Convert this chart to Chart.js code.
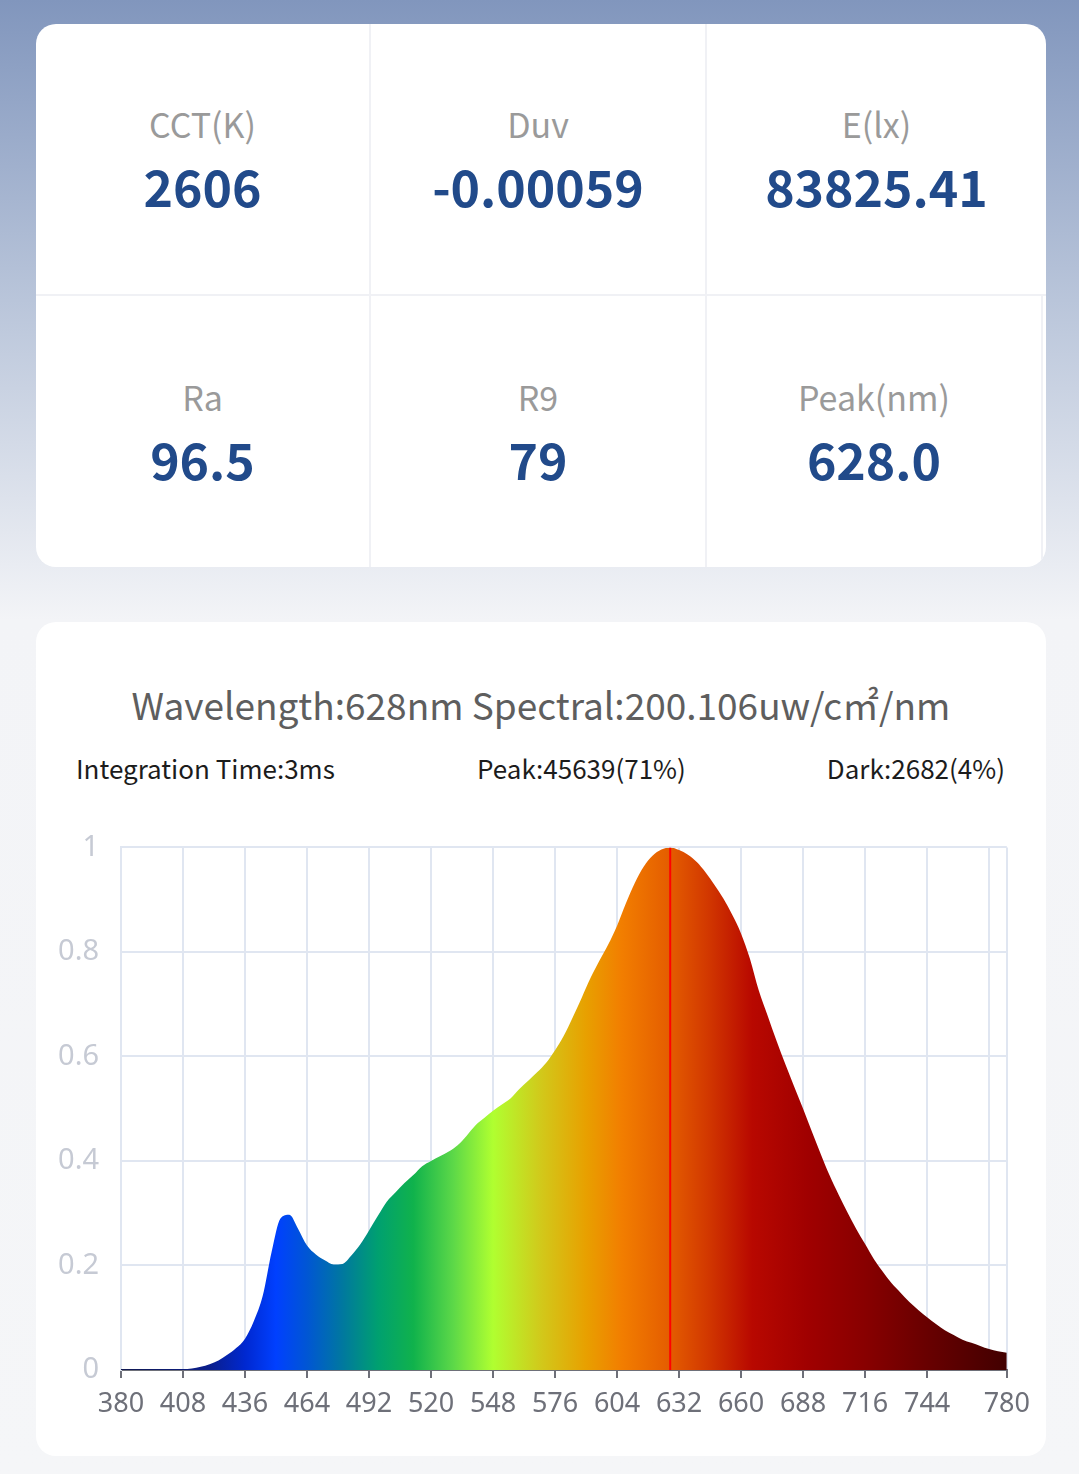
<!DOCTYPE html>
<html>
<head>
<meta charset="utf-8">
<script src="https://cdn.jsdelivr.net/npm/chart.js@4.4.1/dist/chart.umd.min.js"></script>
<style>
    html, body { margin: 0; padding: 0; }
    body {
        width: 1079px;
        height: 1474px;
        position: relative;
        overflow: hidden;
        font-family: "Noto Sans CJK SC", "Noto Sans", sans-serif;
        background: linear-gradient(180deg, #8196bd 0px, #b9c5da 300px, #f3f4f7 620px, #f5f6f8 1474px);
    }
    .card {
        position: absolute;
        left: 36px;
        width: 1010px;
        background: #fff;
        border-radius: 20px;
        overflow: hidden;
    }
    #stats { top: 24px; height: 543px; display: grid; grid-template-columns: 335px 336px 339px; grid-template-rows: 272px 271px; }
    .cell {
        display: flex;
        flex-direction: column;
        align-items: center;
        justify-content: center;
        box-sizing: border-box;
        border-right: 2px solid #f0f1f5;
        border-bottom: 2px solid #f0f1f5;
    }
    .cell.last { border-right: none; }
    .cell.bottom { border-bottom: none; }
    .cell.bottom.last { border-right: 2px solid #f0f1f5; margin-right: 3px; }
    .label { font-size: 34px; line-height: 41px; color: #9a9a9a; }
    .value { font-size: 50px; line-height: 60px; font-weight: bold; color: #214a8a; margin-top: 11px; }
    #spectrum { top: 622px; height: 834px; }
    .title { position: absolute; left: 0; width: 1010px; top: 58px; text-align: center; font-size: 37px; line-height: 48px; color: #5e5e5e; }
    .info { position: absolute; top: 128px; font-size: 26px; line-height: 36px; color: #1c1c1c; }
    #chartBox { position: absolute; left: 4px; top: 186px; width: 1000px; height: 628px; }
</style>
</head>
<body>
<div class="card" id="stats"></div>

<div class="card" id="spectrum">
    <div class="title">Wavelength:628nm Spectral:200.106uw/c㎡/nm</div>
    <div class="info" style="left:40px">Integration Time:3ms</div>
    <div class="info" style="left:441px">Peak:45639(71%)</div>
    <div class="info" style="right:41px">Dark:2682(4%)</div>
    <div id="chartBox"><canvas id="chart"></canvas></div>
</div>

<script>
// measurement cards
const statLabels = ['CCT(K)', 'Duv', 'E(lx)', 'Ra', 'R9', 'Peak(nm)'];
const statValues = ['2606', '-0.00059', '83825.41', '96.5', '79', '628.0'];

// spectrum, relative intensity per wavelength (nm)
const wavelengths = [380, 384, 388, 392, 396, 400, 404, 408, 412, 416, 420, 424, 428, 432, 436, 440, 444, 448, 452, 456,
    460, 464, 468, 472, 476, 480, 484, 488, 492, 496, 500, 504, 508, 512, 516, 520, 524, 528, 532, 536,
    540, 544, 548, 552, 556, 560, 564, 568, 572, 576, 580, 584, 588, 592, 596, 600, 604, 608, 612, 616,
    620, 624, 628, 632, 636, 640, 644, 648, 652, 656, 660, 664, 668, 672, 676, 680, 684, 688, 692, 696,
    700, 704, 708, 712, 716, 720, 724, 728, 732, 736, 740, 744, 748, 752, 756, 760, 764, 768, 772, 776, 780];
const intensity = [0.002, 0.002, 0.002, 0.002, 0.002, 0.002, 0.002, 0.002, 0.003, 0.006, 0.011, 0.018, 0.029, 0.042, 0.060, 0.094, 0.142, 0.226, 0.290, 0.297,
    0.270, 0.238, 0.221, 0.210, 0.202, 0.203, 0.219, 0.240, 0.267, 0.295, 0.322, 0.340, 0.358, 0.373, 0.390, 0.400, 0.409, 0.418, 0.430, 0.448,
    0.468, 0.482, 0.496, 0.508, 0.520, 0.538, 0.554, 0.570, 0.588, 0.612, 0.640, 0.675, 0.712, 0.750, 0.783, 0.814, 0.850, 0.893, 0.932, 0.963,
    0.984, 0.996, 1.000, 0.995, 0.986, 0.972, 0.952, 0.928, 0.902, 0.871, 0.835, 0.787, 0.726, 0.678, 0.630, 0.585, 0.542, 0.500, 0.456, 0.413,
    0.372, 0.336, 0.302, 0.270, 0.241, 0.212, 0.188, 0.166, 0.148, 0.130, 0.115, 0.101, 0.088, 0.076, 0.067, 0.058, 0.052, 0.046, 0.040, 0.036, 0.033];
const peakWavelength = 628;
const xTicks = [380, 408, 436, 464, 492, 520, 548, 576, 604, 632, 660, 688, 716, 744, 772, 780];
const yTicks = [0, 0.2, 0.4, 0.6, 0.8, 1];

// fill colours along the wavelength axis
const colorStopNm = [380, 420, 436, 450, 464, 480, 496, 512, 530, 548, 570, 590, 606, 628, 645, 665, 690, 716, 744, 780];
const colorStopHex = ['#101850', '#0a1e8c', '#0028d0', '#0040ff', '#0056d4', '#00789f', '#00a070', '#10b24c', '#5cd848', '#b0ff30',
    '#d2c81a', '#e8a000', '#f27e00', '#e45c00', '#d23800', '#b80800', '#a00000', '#880000', '#680000', '#420000'];

const stats = document.getElementById('stats');
statLabels.forEach((label, i) => {
    const cell = document.createElement('div');
    cell.className = 'cell' + (i % 3 === 2 ? ' last' : '') + (i > 2 ? ' bottom' : '');
    cell.innerHTML = '<div class="label">' + label + '</div><div class="value">' + statValues[i] + '</div>';
    stats.appendChild(cell);
});

function spectrumFill(context) {
    const chart = context.chart;
    const area = chart.chartArea;
    if (!area) return '#f08000';
    const x = chart.scales.x;
    const g = chart.ctx.createLinearGradient(area.left, 0, area.right, 0);
    colorStopNm.forEach((nm, i) => {
        const pos = (x.getPixelForValue(nm) - area.left) / (area.right - area.left);
        g.addColorStop(Math.min(1, Math.max(0, pos)), colorStopHex[i]);
    });
    return g;
}

new Chart(document.getElementById('chart'), {
    type: 'line',
    data: {
        datasets: [{
            data: wavelengths.map((w, i) => ({ x: w, y: intensity[i] })),
            borderWidth: 0,
            borderColor: 'rgba(0,0,0,0)',
            backgroundColor: spectrumFill,
            fill: 'origin',
            pointRadius: 0,
            cubicInterpolationMode: 'monotone',
            order: 2
        }, {
            data: [{ x: peakWavelength, y: 0 }, { x: peakWavelength, y: 1 }],
            borderColor: '#ff0000',
            borderWidth: 2,
            pointRadius: 0,
            fill: false,
            order: 1
        }]
    },
    options: {
        responsive: true,
        maintainAspectRatio: false,
        animation: false,
        layout: { padding: { top: 2, right: 33, bottom: 0, left: 0 } },
        plugins: { legend: { display: false }, tooltip: { enabled: false } },
        scales: {
            x: {
                type: 'linear',
                min: 380,
                max: 780,
                afterBuildTicks: (scale) => { scale.ticks = xTicks.map(v => ({ value: v })); },
                afterFit: (scale) => { scale.height = 66; },
                grid: {
                    color: '#e0e6f1',
                    lineWidth: 2,
                    tickLength: 8,
                    tickColor: (ctx) => (ctx.tick && ctx.tick.value === 772) ? 'rgba(0,0,0,0)' : '#6e7079',
                    tickWidth: 2
                },
                border: { color: '#6e7079', width: 2 },
                ticks: {
                    autoSkip: false,
                    maxRotation: 0,
                    padding: 10,
                    color: '#6e7079',
                    font: { family: 'Noto Sans', size: 27 },
                    callback: (v) => v === 772 ? '' : String(v)
                }
            },
            y: {
                min: 0,
                max: 1,
                afterBuildTicks: (scale) => { scale.ticks = yTicks.map(v => ({ value: v })); },
                afterFit: (scale) => { scale.width = 81; },
                grid: { color: '#e0e6f1', lineWidth: 2, drawTicks: false },
                border: { color: '#e0e6f1', width: 2 },
                ticks: {
                    padding: 22,
                    color: '#c6cad4',
                    font: { family: 'Noto Sans', size: 29 },
                    callback: (v) => String(v)
                }
            }
        }
    }
});
</script>
</body>
</html>
